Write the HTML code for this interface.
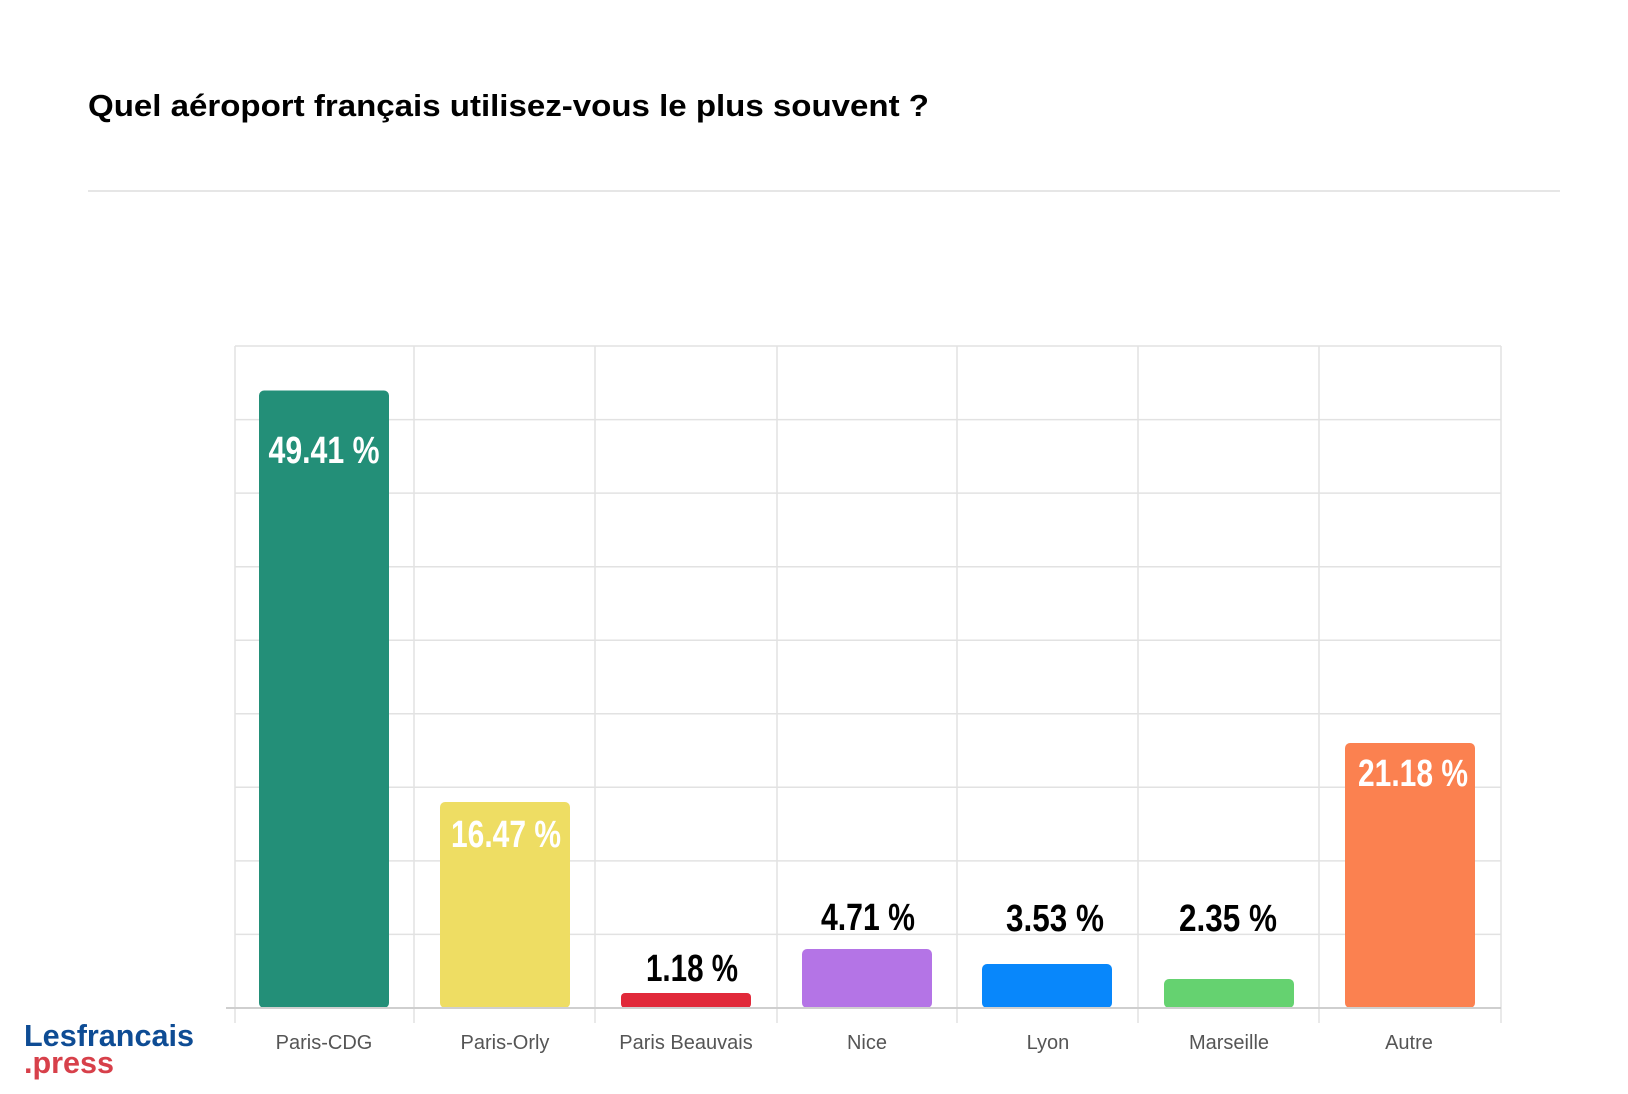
<!DOCTYPE html>
<html><head><meta charset="utf-8"><style>
html,body{margin:0;padding:0;background:#fff;}
svg{display:block;}
</style></head><body>
<svg width="1628" height="1094" viewBox="0 0 1628 1094" xmlns="http://www.w3.org/2000/svg">
<rect width="1628" height="1094" fill="#fff"/>
<text x="88" y="116" font-family="Liberation Sans, sans-serif" font-weight="bold" font-size="31" fill="#000" textLength="841" lengthAdjust="spacingAndGlyphs">Quel aéroport français utilisez-vous le plus souvent ?</text>
<line x1="88" y1="191" x2="1560" y2="191" stroke="#e6e6e6" stroke-width="2"/>
<g stroke="#e2e2e2" stroke-width="1.5">
<line x1="235" y1="346" x2="1501" y2="346"/>
<line x1="235" y1="419.6" x2="1501" y2="419.6"/>
<line x1="235" y1="493.1" x2="1501" y2="493.1"/>
<line x1="235" y1="566.7" x2="1501" y2="566.7"/>
<line x1="235" y1="640.2" x2="1501" y2="640.2"/>
<line x1="235" y1="713.8" x2="1501" y2="713.8"/>
<line x1="235" y1="787.3" x2="1501" y2="787.3"/>
<line x1="235" y1="860.9" x2="1501" y2="860.9"/>
<line x1="235" y1="934.4" x2="1501" y2="934.4"/>
<line x1="235" y1="346" x2="235" y2="1023"/>
<line x1="414" y1="346" x2="414" y2="1023"/>
<line x1="595" y1="346" x2="595" y2="1023"/>
<line x1="777" y1="346" x2="777" y2="1023"/>
<line x1="957" y1="346" x2="957" y2="1023"/>
<line x1="1138" y1="346" x2="1138" y2="1023"/>
<line x1="1319" y1="346" x2="1319" y2="1023"/>
<line x1="1501" y1="346" x2="1501" y2="1023"/>
</g>
<g>
<rect x="259" y="390.5" width="130" height="617.5" rx="5" fill="#238f78"/>
<rect x="440" y="802" width="130" height="206" rx="5" fill="#eedd63"/>
<rect x="621" y="993" width="130" height="15" rx="4" fill="#e1293a"/>
<rect x="802" y="949" width="130" height="59" rx="5" fill="#b474e6"/>
<rect x="982" y="964" width="130" height="44" rx="5" fill="#0887fb"/>
<rect x="1164" y="979" width="130" height="29" rx="5" fill="#65d270"/>
<rect x="1345" y="743" width="130" height="265" rx="5" fill="#fb8150"/>
</g>
<line x1="226" y1="1008" x2="1501" y2="1008" stroke="#cfcfcf" stroke-width="2"/>
<g font-family="Liberation Sans Narrow, Liberation Sans, sans-serif" font-weight="bold" font-size="38" text-anchor="middle">
<text x="324" y="463" fill="#fff" textLength="111" lengthAdjust="spacingAndGlyphs">49.41 %</text>
<text x="506" y="847" fill="#fff" textLength="110" lengthAdjust="spacingAndGlyphs">16.47 %</text>
<text x="1413" y="786" fill="#fff" textLength="110" lengthAdjust="spacingAndGlyphs">21.18 %</text>
<text x="692" y="981" fill="#000" textLength="92" lengthAdjust="spacingAndGlyphs">1.18 %</text>
<text x="868" y="930" fill="#000" textLength="94" lengthAdjust="spacingAndGlyphs">4.71 %</text>
<text x="1055" y="931" fill="#000" textLength="98" lengthAdjust="spacingAndGlyphs">3.53 %</text>
<text x="1228" y="931" fill="#000" textLength="98" lengthAdjust="spacingAndGlyphs">2.35 %</text>
</g>
<g font-family="Liberation Sans, sans-serif" font-size="20" fill="#555" text-anchor="middle">
<text x="324" y="1049">Paris-CDG</text>
<text x="505" y="1049">Paris-Orly</text>
<text x="686" y="1049">Paris Beauvais</text>
<text x="867" y="1049">Nice</text>
<text x="1048" y="1049">Lyon</text>
<text x="1229" y="1049">Marseille</text>
<text x="1409" y="1049">Autre</text>
</g>
<text x="24" y="1046" font-family="Liberation Sans, sans-serif" font-weight="bold" font-size="31" fill="#0e4c94" textLength="170" lengthAdjust="spacingAndGlyphs">Lesfrancais</text>
<text x="24" y="1073" font-family="Liberation Sans, sans-serif" font-weight="bold" font-size="31" fill="#d7404a" textLength="90" lengthAdjust="spacingAndGlyphs">.press</text>
</svg>
</body></html>
